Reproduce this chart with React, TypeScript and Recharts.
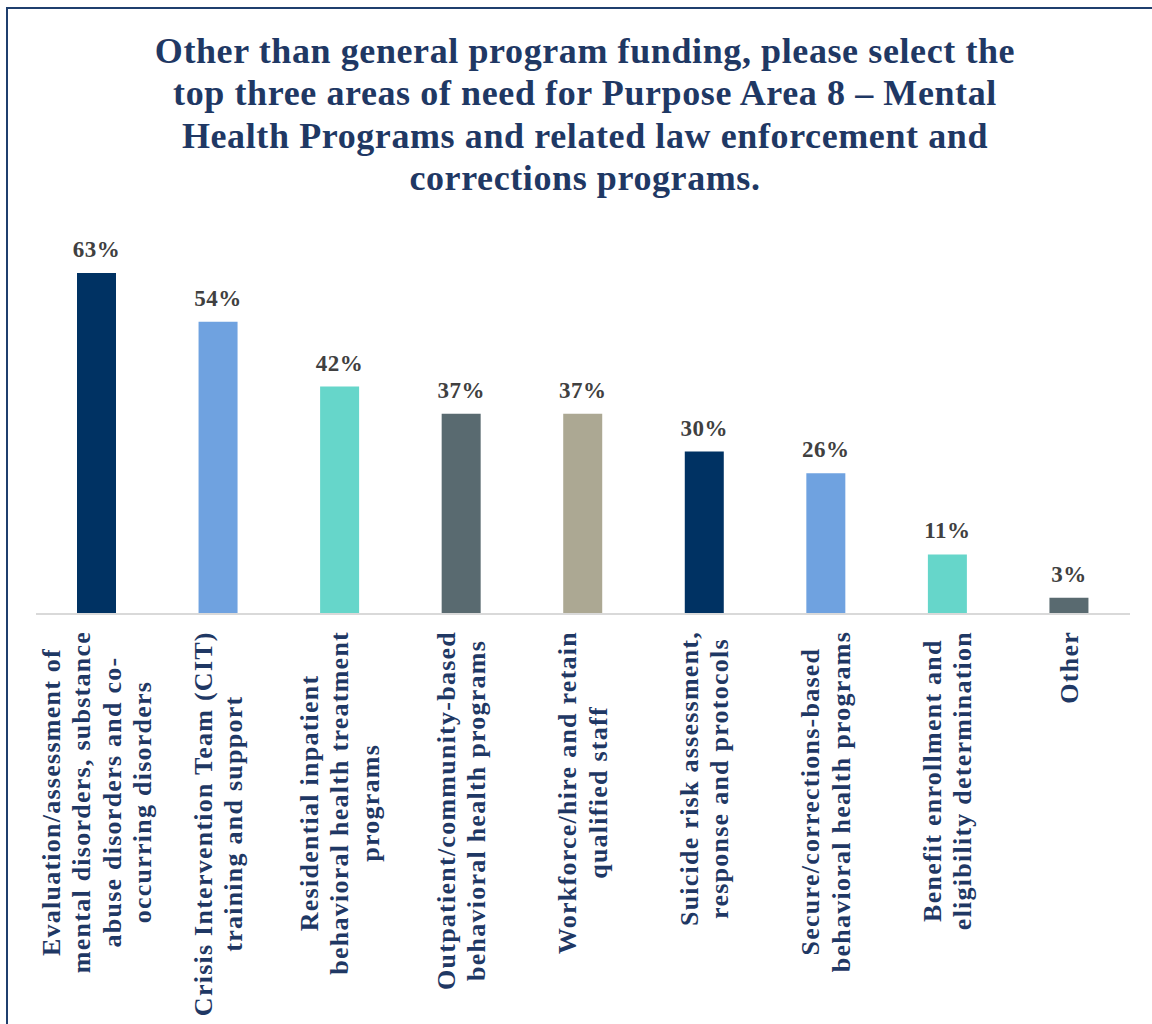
import React from 'react';
import { BarChart, Bar, XAxis, YAxis, LabelList, Cell } from 'recharts';

// each category label, split into the lines shown under the axis
const categoryLines: string[][] = [
  ['Evaluation/assessment of', 'mental disorders, substance', 'abuse disorders and co-', 'occurring disorders'],
  ['Crisis Intervention Team (CIT)', 'training and support'],
  ['Residential inpatient', 'behavioral health treatment', 'programs'],
  ['Outpatient/community-based', 'behavioral health programs'],
  ['Workforce/hire and retain', 'qualified staff'],
  ['Suicide risk assessment,', 'response and protocols'],
  ['Secure/corrections-based', 'behavioral health programs'],
  ['Benefit enrollment and', 'eligibility determination'],
  ['Other'],
];

const shares = [63, 54, 42, 37, 37, 30, 26, 11, 3];

const palette = ['#003263', '#6fa2e0', '#66d6ca', '#596a70', '#aca893'];

const titleLines = [
  'Other than general program funding, please select the',
  'top three areas of need for Purpose Area 8 \u2013 Mental',
  'Health Programs and related law enforcement and',
  'corrections programs.',
];

const data = categoryLines.map((lines, i) => ({
  name: lines.join(' '),
  share: shares[i],
}));

const FONT = '"Liberation Serif", "Times New Roman", serif';
const NAVY = '#1f3864';
const TICK_SIZE = 26;
const TICK_SPACING = 1.25;
const LINE_STEP = 30.5;

let ctx: CanvasRenderingContext2D | null = null;
const measure = (s: string) => {
  if (!ctx) ctx = document.createElement('canvas').getContext('2d');
  if (!ctx) return s.length * TICK_SIZE * 0.5;
  ctx.font = `bold ${TICK_SIZE}px ${FONT}`;
  return ctx.measureText(s).width + TICK_SPACING * s.length;
};

const CategoryTick = (props: any) => {
  const { x, y, payload } = props;
  const idx = data.findIndex((d) => d.name === payload.value);
  const lines = categoryLines[idx] || [String(payload.value)];
  const block = Math.max(...lines.map(measure));
  const cy = y + block / 2;
  return (
    <g>
      {lines.map((line, i) => {
        const cx = x + (i - (lines.length - 1) / 2) * LINE_STEP + TICK_SIZE * 0.33;
        return (
          <text
            key={i}
            transform={`translate(${cx},${cy}) rotate(-90)`}
            textAnchor="middle"
            fill={NAVY}
            fontFamily={FONT}
            fontWeight="bold"
            fontSize={TICK_SIZE}
            letterSpacing={TICK_SPACING}
          >
            {line}
          </text>
        );
      })}
    </g>
  );
};

const App = () => {
  return (
    <div style={{
      position: 'absolute',
      left: 0,
      top: 0,
      width: 1152,
      height: 1024,
      overflow: 'hidden',
      background: '#ffffff',
    }}>
      <div style={{
        position: 'absolute',
        left: 6,
        top: 7,
        width: 1300,
        height: 1200,
        border: '2px solid #1f3f6e',
      }} />
      <div style={{
        position: 'absolute',
        left: 35,
        top: 30,
        width: 1100,
        textAlign: 'center',
        fontFamily: FONT,
        fontWeight: 'bold',
        fontSize: 36,
        letterSpacing: 0.6,
        lineHeight: '42.3px',
        color: NAVY,
      }}>
        {titleLines.map((t, i) => (
          <div key={i} style={{ whiteSpace: 'nowrap' }}>{t}</div>
        ))}
      </div>
      <div style={{ position: 'absolute', left: 0, top: 0 }}>
        <BarChart
          width={1152}
          height={1024}
          data={data}
          margin={{ top: 235, right: 22, left: 36, bottom: 0 }}
        >
          <XAxis
            dataKey="name"
            height={410}
            interval={0}
            axisLine={{ stroke: '#d9d9d9', strokeWidth: 2 }}
            tickLine={false}
            tickSize={0}
            tickMargin={17}
            tick={<CategoryTick />}
          />
          <YAxis hide domain={[0, 70]} />
          <Bar dataKey="share" barSize={39} isAnimationActive={false}>
            {data.map((d, i) => (
              <Cell key={d.name} fill={palette[i % palette.length]} />
            ))}
            <LabelList
              dataKey="share"
              position="top"
              offset={16}
              formatter={(v: any) => `${v}%`}
              fill="#404040"
              fontFamily={FONT}
              fontWeight="bold"
              fontSize={23}
              letterSpacing={0.5}
            />
          </Bar>
        </BarChart>
      </div>
    </div>
  );
};

export default App;
